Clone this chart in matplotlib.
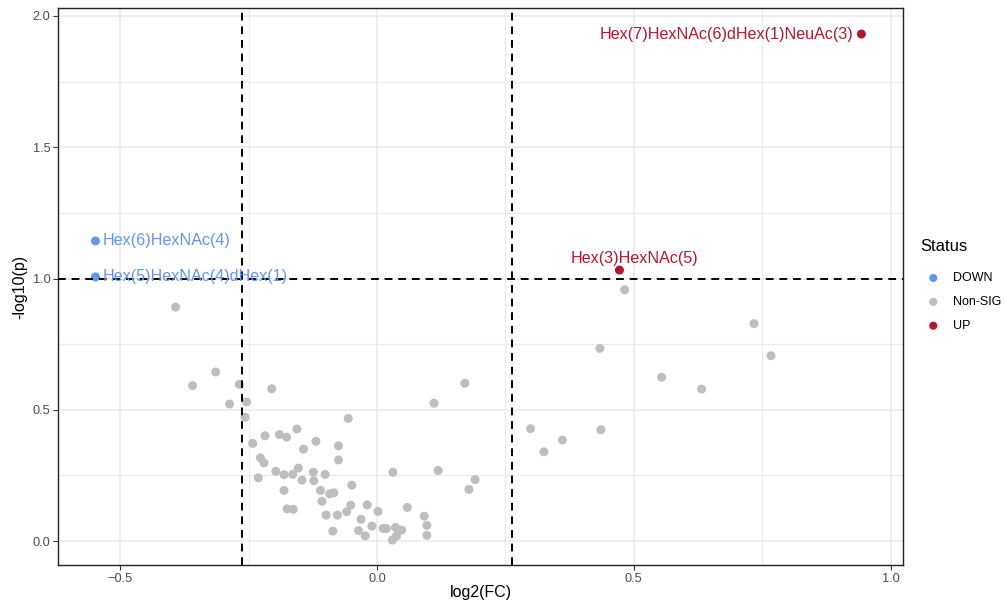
import matplotlib.pyplot as plt
import numpy as np

plt.rcParams['font.family'] = ['Liberation Sans', 'DejaVu Sans']

# Non-significant points (log2FC, -log10 p)
ns_x = [-0.392, -0.359, -0.314, -0.268, -0.205, -0.287, -0.254, -0.257, -0.056, -0.242,
        -0.218, -0.190, -0.176, -0.156, -0.119, -0.143, -0.075, -0.227, -0.220, -0.075,
        -0.197, -0.181, -0.164, -0.153, -0.124, -0.101, -0.231, -0.146, -0.123, -0.049,
        -0.181, -0.110, -0.092, -0.084, -0.107, -0.175, -0.163, -0.099, -0.077, -0.059,
        -0.086, 0.171, 0.111, 0.031, 0.119, 0.191, 0.179, -0.019, -0.051, 0.059,
        -0.031, 0.002, 0.092, 0.097, 0.097, -0.010, 0.012, 0.018, 0.036, 0.048,
        0.038, 0.030, -0.036, -0.023, 0.482, 0.734, 0.767, 0.434, 0.554, 0.632,
        0.299, 0.325, 0.361, 0.436]
ns_y = [0.891, 0.592, 0.644, 0.597, 0.580, 0.522, 0.530, 0.472, 0.467, 0.372,
        0.401, 0.406, 0.396, 0.427, 0.380, 0.350, 0.363, 0.317, 0.298, 0.309,
        0.266, 0.253, 0.254, 0.278, 0.262, 0.254, 0.241, 0.232, 0.230, 0.213,
        0.193, 0.193, 0.180, 0.184, 0.152, 0.123, 0.121, 0.099, 0.099, 0.112,
        0.038, 0.601, 0.525, 0.262, 0.269, 0.234, 0.197, 0.138, 0.137, 0.128,
        0.083, 0.113, 0.095, 0.060, 0.022, 0.057, 0.048, 0.048, 0.052, 0.042,
        0.020, 0.004, 0.040, 0.020, 0.957, 0.828, 0.706, 0.734, 0.624, 0.579,
        0.428, 0.340, 0.385, 0.424]

up_x = [0.943, 0.472]
up_y = [1.931, 1.032]
up_names = ["Hex(7)HexNAc(6)dHex(1)NeuAc(3)", "Hex(3)HexNAc(5)"]

down_x = [-0.548, -0.548]
down_y = [1.143, 1.006]
down_names = ["Hex(6)HexNAc(4)", "Hex(5)HexNAc(4)dHex(1)"]

fc_cut = np.log2(1.2)
p_cut = 1.0

c_down = '#6495ED'
c_ns = '#BEBEBE'
c_up = '#B2182B'

fig = plt.figure(figsize=(10.05, 6.03), dpi=100)
ax = fig.add_axes([0.0577, 0.063, 0.8408, 0.9237])

ax.set_xlim(-0.621, 1.024)
ax.set_ylim(-0.091, 2.03)
ax.set_xticks([-0.5, 0.0, 0.5, 1.0])
ax.set_yticks([0.0, 0.5, 1.0, 1.5, 2.0])
ax.set_xticks([-0.25, 0.25, 0.75], minor=True)
ax.set_yticks([0.25, 0.75, 1.25, 1.75], minor=True)
ax.grid(True, which='major', color='#EBEBEB', lw=1.2)
ax.grid(True, which='minor', color='#EBEBEB', lw=0.8)
ax.set_axisbelow(True)
ax.tick_params(which='minor', length=0)
ax.tick_params(which='major', length=3.5, color='#333333', labelsize=9.2,
               labelcolor='#4D4D4D', pad=2)
for s in ax.spines.values():
    s.set_color('#222222')
    s.set_linewidth(1.0)

ax.scatter(ns_x, ns_y, s=42, color=c_ns, edgecolors='none', zorder=2, label='Non-SIG')
ax.scatter(down_x, down_y, s=42, color=c_down, edgecolors='none', zorder=3, label='DOWN')
ax.scatter(up_x, up_y, s=42, color=c_up, edgecolors='none', zorder=3, label='UP')

ax.axvline(-fc_cut, color='black', ls=(0, (4, 3)), lw=1.4, zorder=4)
ax.axvline(fc_cut, color='black', ls=(0, (4, 3)), lw=1.4, zorder=4)
ax.axhline(p_cut, color='black', ls=(0, (4, 3)), lw=1.4, zorder=4)

# labels
ax.text(up_x[0] - 0.015, up_y[0], up_names[0], color=c_up, fontsize=11.6,
        ha='right', va='center', zorder=5)
ax.text(up_x[1] + 0.03, up_y[1] + 0.045, up_names[1], color=c_up, fontsize=11.6,
        ha='center', va='center', zorder=5)
for x, y, t in zip(down_x, down_y, down_names):
    ax.text(x + 0.013, y, t, color=c_down, fontsize=11.6, ha='left', va='center', zorder=5)

ax.set_xlabel('log2(FC)', fontsize=11.5, labelpad=0)
ax.set_ylabel('-log10(p)', fontsize=11.5, labelpad=4)

h, l = ax.get_legend_handles_labels()
order = [1, 0, 2]
leg = fig.legend([h[i] for i in order], [l[i] for i in order], title='Status',
                 loc='upper left', bbox_to_anchor=(0.905, 0.622), frameon=False,
                 fontsize=9, title_fontsize=12, handletextpad=0.6,
                 labelspacing=0.95, markerscale=0.9)
leg._legend_box.align = 'left'
leg._legend_box.sep = 13

fig.savefig('out.png', dpi=100)
